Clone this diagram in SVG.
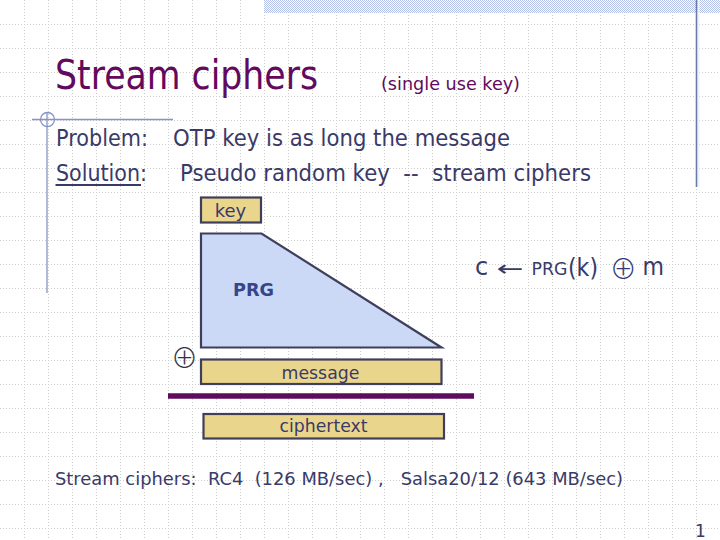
<svg xmlns="http://www.w3.org/2000/svg" width="720" height="540" viewBox="0 0 720 540">
  <defs>
    <pattern id="dither" x="0" y="0" width="2" height="2" patternUnits="userSpaceOnUse">
      <rect width="2" height="2" fill="#ffffff"/>
      <rect x="0" y="0" width="1" height="1" fill="#b2bfe6"/>
      <rect x="1" y="1" width="1" height="1" fill="#b2bfe6"/>
    </pattern>
    <style>
      .grid { stroke: #cccccc; stroke-width: 1; stroke-dasharray: 1 2; fill: none; }
      .deco { stroke: #8694c4; stroke-width: 1.3; fill: none; }
      .txt { font-family: "DejaVu Sans", Verdana, sans-serif; fill: #3a3a68; }
      .sym { font-family: "Noto Sans CJK JP", "DejaVu Sans", sans-serif; font-weight: 300; }
      .box { stroke: #3f3f5c; stroke-width: 2.2; }
      .gold { fill: #ead58c; }
      .blue { fill: #cbd9f7; }
    </style>
  </defs>

  <rect width="720" height="540" fill="#ffffff"/>

  <g id="background">
    <path class="grid" d="M24.5 0V540M48.5 0V540M72.5 0V540M96.5 0V540M120.5 0V540M144.5 0V540M168.5 0V540M192.5 0V540M216.5 0V540M240.5 0V540M264.5 0V540M288.5 0V540M312.5 0V540M336.5 0V540M360.5 0V540M384.5 0V540M408.5 0V540M432.5 0V540M456.5 0V540M480.5 0V540M504.5 0V540M528.5 0V540M552.5 0V540M576.5 0V540M600.5 0V540M624.5 0V540M648.5 0V540M672.5 0V540M696.5 0V540M0 24.5H720M0 48.5H720M0 72.5H720M0 96.5H720M0 120.5H720M0 144.5H720M0 168.5H720M0 192.5H720M0 216.5H720M0 240.5H720M0 264.5H720M0 288.5H720M0 312.5H720M0 336.5H720M0 360.5H720M0 384.5H720M0 408.5H720M0 432.5H720M0 456.5H720M0 480.5H720M0 504.5H720M0 528.5H720"/>
    <rect x="264" y="0" width="456" height="13" fill="url(#dither)"/>
    <line x1="698.5" y1="0" x2="698.5" y2="187" stroke="#eef2fb" stroke-width="2"/>
    <line x1="696.5" y1="0" x2="696.5" y2="187" stroke="#6c7aa6" stroke-width="1.6"/>
    <line class="deco" x1="32" y1="119.5" x2="173" y2="119.5"/>
    <line class="deco" x1="47" y1="112" x2="47" y2="293"/>
    <circle class="deco" cx="47.5" cy="119.5" r="7"/>
  </g>

  <g id="title">
    <text x="55" y="89" font-family="DejaVu Sans, Verdana, sans-serif" font-size="41" fill="#620a5e" textLength="263" lengthAdjust="spacingAndGlyphs">Stream ciphers</text>
    <text x="381" y="90" font-family="DejaVu Sans, Verdana, sans-serif" font-size="18" fill="#620a5e" textLength="139" lengthAdjust="spacingAndGlyphs">(single use key)</text>
  </g>

  <g id="body-text">
    <text class="txt" x="56" y="146" font-size="22.5" textLength="92" lengthAdjust="spacingAndGlyphs">Problem:</text>
    <text class="txt" x="173" y="146" font-size="22.5" textLength="337" lengthAdjust="spacingAndGlyphs">OTP key is as long the message</text>
    <text class="txt" x="56" y="181" font-size="22.5" textLength="91" lengthAdjust="spacingAndGlyphs">Solution:</text>
    <line x1="55.5" y1="185" x2="141" y2="185" stroke="#3a3a68" stroke-width="2"/>
    <text class="txt" x="180" y="181" font-size="22.5" textLength="411" lengthAdjust="spacingAndGlyphs" xml:space="preserve">Pseudo random key  --  stream ciphers</text>
  </g>

  <g id="key">
    <rect class="box gold" x="201" y="197.5" width="60" height="25"/>
    <text class="txt" x="230.5" y="216.5" font-size="18" text-anchor="middle">key</text>
  </g>

  <g id="prg">
    <polygon class="box blue" points="201,233.5 261.5,233.5 441.5,347.5 201,347.5"/>
    <text x="233" y="296" font-family="DejaVu Sans, Verdana, sans-serif" font-size="18.5" font-weight="bold" fill="#36458a" textLength="41" lengthAdjust="spacingAndGlyphs">PRG</text>
  </g>

  <g id="xor">
    <text class="sym" x="184.5" y="368.3" font-size="27" text-anchor="middle" fill="#333344">⊕</text>
  </g>

  <g id="message">
    <rect class="box gold" x="201" y="359.5" width="240.5" height="24.5"/>
    <text class="txt" x="320.5" y="379" font-size="18" text-anchor="middle" textLength="78" lengthAdjust="spacingAndGlyphs">message</text>
  </g>

  <g id="connectors">
    <line x1="168" y1="396" x2="474" y2="396" stroke="#5e0c5c" stroke-width="5.4"/>
  </g>

  <g id="ciphertext">
    <rect class="box gold" x="203.5" y="414" width="240.5" height="24.5"/>
    <text class="txt" x="323.5" y="432" font-size="18" text-anchor="middle" textLength="88" lengthAdjust="spacingAndGlyphs">ciphertext</text>
  </g>

  <g id="formula">
    <text class="txt" x="475" y="275" font-size="24" fill="#343a78">c</text>
    <text class="txt" x="496.5" y="276" font-size="22" fill="#343a78" textLength="27" lengthAdjust="spacingAndGlyphs">←</text>
    <text class="txt" x="531.5" y="275" font-size="17" fill="#343a78" textLength="36" lengthAdjust="spacingAndGlyphs">PRG</text>
    <text class="txt" x="568" y="276" font-size="25" fill="#343a78" textLength="30" lengthAdjust="spacingAndGlyphs">(k)</text>
    <text class="sym" x="623.3" y="279" font-size="27" fill="#343a78" text-anchor="middle">⊕</text>
    <text class="txt" x="642.5" y="275" font-size="24" fill="#343a78" textLength="21.5" lengthAdjust="spacingAndGlyphs">m</text>
  </g>

  <g id="footer">
    <text class="txt" x="55" y="485" font-size="18" textLength="568" lengthAdjust="spacingAndGlyphs" xml:space="preserve">Stream ciphers:  RC4  (126 MB/sec) ,   Salsa20/12 (643 MB/sec)</text>
    <text class="txt" x="695" y="537" font-size="17">1</text>
  </g>
</svg>
